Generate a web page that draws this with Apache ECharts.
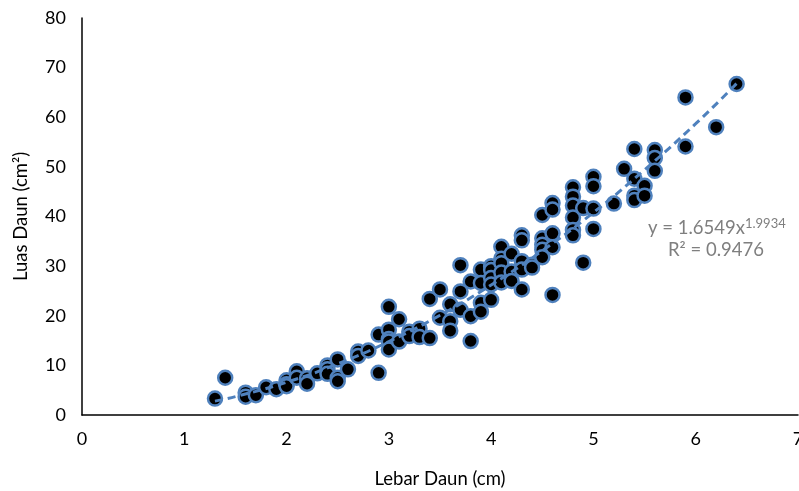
<!DOCTYPE html>
<html lang="en">
<head>
    <meta charset="utf-8">
    <title>Luas Daun vs Lebar Daun</title>
    <script src="https://cdn.jsdelivr.net/npm/echarts@6/dist/echarts.min.js"></script>
    <style>
        html, body { margin: 0; padding: 0; background: #fff; }
    </style>
</head>
<body>
<div id="main" style="width:799px;height:491px;"></div>
<script type="text/javascript">
    // lebar daun (cm)
    var leafWidth = [
        1.3, 1.4, 1.6, 1.6, 1.7, 1.8, 1.9, 2.0, 2.0, 2.0, 2.1, 2.1, 2.2, 2.2, 2.3,
        2.4, 2.4, 2.4, 2.5, 2.5, 2.5, 2.6, 2.7, 2.7, 2.8, 2.9, 2.9, 3.0, 3.0, 3.0,
        3.0, 3.0, 3.1, 3.1, 3.2, 3.2, 3.3, 3.3, 3.4, 3.4, 3.5, 3.5, 3.6, 3.6, 3.6,
        3.7, 3.7, 3.7, 3.8, 3.8, 3.8, 3.9, 3.9, 3.9, 3.9, 4.0, 4.0, 4.0, 4.0, 4.0,
        4.1, 4.1, 4.1, 4.1, 4.1, 4.2, 4.2, 4.2, 4.3, 4.3, 4.3, 4.3, 4.3, 4.4, 4.4,
        4.5, 4.5, 4.5, 4.5, 4.5, 4.6, 4.6, 4.6, 4.6, 4.6, 4.8, 4.8, 4.8, 4.8, 4.8,
        4.8, 4.9, 4.9, 5.0, 5.0, 5.0, 5.0, 5.2, 5.3, 5.4, 5.4, 5.4, 5.4, 5.5, 5.5,
        5.6, 5.6, 5.6, 5.9, 5.9, 6.2, 6.4
    ];
    // luas daun (cm2)
    var leafArea = [
        3.3, 7.5, 4.5, 3.7, 4.0, 5.6, 5.2, 7.0, 6.2, 5.8, 8.8, 7.5, 7.4, 6.3, 8.4,
        10.0, 9.2, 8.3, 11.2, 7.5, 6.8, 9.2, 12.8, 11.9, 13.0, 16.2, 8.5, 21.8, 17.2, 15.3,
        14.8, 13.2, 19.3, 14.8, 16.8, 15.9, 17.4, 15.7, 23.4, 15.5, 25.3, 19.6, 22.3, 18.9, 17.0,
        30.2, 24.9, 21.2, 26.9, 19.9, 14.9, 29.3, 26.6, 22.6, 20.8, 30.0, 29.2, 27.6, 26.3, 23.2,
        33.9, 31.5, 30.6, 28.7, 26.7, 32.5, 28.9, 27.0, 36.2, 35.2, 31.0, 29.3, 25.3, 30.3, 29.7,
        40.3, 35.6, 34.3, 33.3, 31.8, 42.7, 41.4, 36.6, 33.8, 24.2, 45.9, 44.0, 42.2, 39.8, 37.3,
        36.2, 41.7, 30.7, 48.0, 46.1, 41.6, 37.5, 42.6, 49.6, 53.6, 47.6, 44.2, 43.3, 46.2, 44.2,
        53.4, 51.8, 49.2, 64.0, 54.1, 58.0, 66.7
    ];
    // garis tren (power)
    var trendX = [1.3, 1.5, 2.0, 2.5, 3.0, 3.5, 4.0, 4.5, 5.0, 5.5, 6.0, 6.4];
    var trendY = [2.8, 3.7, 6.6, 10.3, 14.8, 20.1, 26.2, 33.1, 40.8, 49.4, 58.7, 66.8];

    var xTicks = [0, 1, 2, 3, 4, 5, 6, 7];
    var yTicks = [0, 10, 20, 30, 40, 50, 60, 70, 80];

    var points = leafWidth.map(function (x, i) { return [x, leafArea[i]]; });
    var trend = trendX.map(function (x, i) { return [x, trendY[i]]; });

    var font = 'Lato, "Open Sans", sans-serif';

    var myChart = echarts.init(document.getElementById('main'));
    myChart.setOption({
        backgroundColor: '#FFFFFF',
        animation: false,
        grid: {
            left: 82,
            right: 1,
            top: 18,
            bottom: 76,
            outerBoundsMode: 'none'
        },
        xAxis: {
            type: 'value',
            min: xTicks[0],
            max: xTicks[xTicks.length - 1],
            interval: 1,
            name: 'Lebar Daun (cm)',
            nameLocation: 'middle',
            nameGap: 55,
            nameTextStyle: { color: '#000000', fontSize: 18.5, fontFamily: font },
            axisLine: { show: true, lineStyle: { color: '#000000', width: 1.5 } },
            axisTick: { show: false },
            splitLine: { show: false },
            axisLabel: { color: '#000000', fontSize: 18, fontFamily: font, margin: 15 }
        },
        yAxis: {
            type: 'value',
            min: yTicks[0],
            max: yTicks[yTicks.length - 1],
            interval: 10,
            name: 'Luas Daun (cm²)',
            nameLocation: 'middle',
            nameGap: 51,
            nameTextStyle: { color: '#000000', fontSize: 18.5, fontFamily: font },
            axisLine: { show: true, lineStyle: { color: '#000000', width: 1.5 } },
            axisTick: { show: false },
            splitLine: { show: false },
            axisLabel: { color: '#000000', fontSize: 18, fontFamily: font, margin: 16 }
        },
        series: [
            {
                name: 'Luas Daun',
                type: 'scatter',
                data: points,
                symbolSize: 14,
                itemStyle: {
                    color: '#000000',
                    borderColor: '#4F81BD',
                    borderWidth: 2.5,
                    opacity: 1
                },
                z: 2
            },
            {
                name: 'Power',
                type: 'line',
                data: trend,
                smooth: true,
                symbol: 'none',
                lineStyle: {
                    color: '#4F81BD',
                    width: 3,
                    type: [8, 5]
                },
                z: 3
            }
        ],
        graphic: [
            {
                type: 'text',
                left: 648,
                top: 217,
                style: {
                    text: 'y = 1.6549x{sup|1.9934}',
                    fill: '#7F7F7F',
                    fontSize: 18.5,
                    fontFamily: font,
                    rich: {
                        sup: { fontSize: 13, fill: '#7F7F7F', fontFamily: font, verticalAlign: 'top', padding: [0, 0, 9, 0] }
                    }
                }
            },
            {
                type: 'text',
                left: 668,
                top: 241,
                style: {
                    text: 'R² = 0.9476',
                    fill: '#7F7F7F',
                    fontSize: 18.5,
                    fontFamily: font
                }
            }
        ]
    });
</script>
</body>
</html>
